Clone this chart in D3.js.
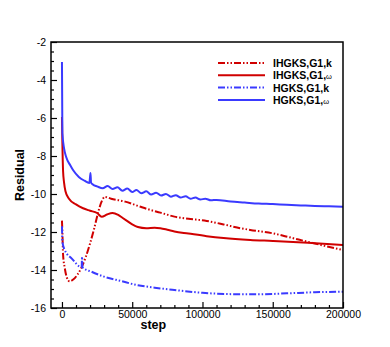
<!DOCTYPE html>
<html>
<head>
<meta charset="utf-8">
<script src="https://cdn.jsdelivr.net/npm/d3@7"></script>
<style>
  body { margin: 0; background: #fff; }
  svg { display: block; font-family: "Liberation Sans", Arial, sans-serif; }
</style>
</head>
<body>
<div id="chart"></div>
<script>
// [step, residual]
const ihgksK = [
  [0, -11.4], [300, -12.0], [800, -13.2], [2000, -13.9], [3500, -14.4],
  [5500, -14.6], [8000, -14.5], [11000, -14.25], [14000, -13.85], [17000, -13.3],
  [20000, -12.6], [23000, -11.8], [26000, -10.9], [28500, -10.35], [30500, -10.15],
  [35000, -10.25], [45000, -10.4], [55000, -10.65], [62000, -10.82], [70000, -10.98],
  [80000, -11.19], [90000, -11.3], [103000, -11.42], [115000, -11.6], [127000, -11.8],
  [134000, -11.89], [150000, -12.07], [162000, -12.28], [174000, -12.5], [187000, -12.73],
  [200000, -12.95]
];
const ihgksW = [
  [0, -5.95], [300, -7.3], [800, -8.8], [1500, -9.4], [2500, -9.85],
  [5000, -10.25], [10000, -10.55], [15000, -10.75], [20000, -10.88], [25000, -11.0],
  [28300, -11.2], [32000, -11.08], [36000, -11.0], [40000, -11.1], [43000, -11.25],
  [46000, -11.4], [50000, -11.6], [54000, -11.74], [60000, -11.8], [66000, -11.77],
  [70000, -11.8], [75000, -11.88], [80000, -11.97], [90000, -12.08], [103000, -12.22],
  [115000, -12.32], [134000, -12.42], [150000, -12.47], [175000, -12.56], [200000, -12.68]
];
const hgksK = [
  [0, -11.7], [200, -12.3], [500, -12.6], [2000, -12.95], [7000, -13.4],
  [14000, -13.85], [14300, -13.3], [14600, -13.86], [21000, -14.09], [30000, -14.35],
  [42000, -14.58], [54000, -14.8], [66000, -14.93], [80000, -15.05], [100000, -15.2],
  [120000, -15.27], [140000, -15.28], [160000, -15.23], [180000, -15.17], [200000, -15.14]
];
const hgksW = [
  [0, -3.05], [300, -6.8], [1500, -7.6], [3000, -8.05], [6000, -8.5],
  [8000, -8.75], [12000, -9.1], [16000, -9.3], [19500, -9.42], [20000, -9.1],
  [20300, -8.9], [20700, -9.4], [22000, -9.5], [25000, -9.6], [29000, -9.7],
  [32500, -9.58], [36000, -9.74], [39500, -9.64], [43000, -9.83], [46500, -9.71],
  [50000, -9.9], [53000, -9.79], [56500, -9.96], [60000, -9.86], [63500, -10.03],
  [67000, -9.93], [70500, -10.08], [74000, -10.0], [77500, -10.14], [81000, -10.06],
  [84500, -10.19], [88000, -10.12], [91500, -10.25], [95000, -10.19], [98500, -10.29],
  [102000, -10.25], [106000, -10.33], [110000, -10.31], [120000, -10.4], [130000, -10.45],
  [140000, -10.5], [150000, -10.53], [160000, -10.57], [170000, -10.6], [180000, -10.63],
  [190000, -10.65], [200000, -10.67]
];

const xTicks = [0, 50000, 100000, 150000, 200000];
const yTicks = [-16, -14, -12, -10, -8, -6, -4, -2];
const legendNames = ["IHGKS,G1,", "IHGKS,G1,", "HGKS,G1,", "HGKS,G1,"];
const legendSuffix = ["k", "\u03c9", "k", "\u03c9"];

const red = "#d00000",
  blue = "#3a3aff",
  dashDot = "7,2,1.5,2,1.5,2";

const margin = { top: 42, right: 47, bottom: 39, left: 51 },
  width = 390 - margin.left - margin.right,
  height = 347 - margin.top - margin.bottom;

const svg = d3
  .select("#chart")
  .append("svg")
  .attr("width", 390)
  .attr("height", 347)
  .append("g")
  .attr("transform", "translate(" + margin.left + "," + margin.top + ")");

const x = d3.scaleLinear().domain([-7800, 200000]).range([0, width]);
const y = d3.scaleLinear().domain([-16, -2]).range([height, 0]);

// ticks point inward, like the original
const xAxis = d3
  .axisBottom(x)
  .tickValues(xTicks)
  .tickSizeInner(-6)
  .tickSizeOuter(0)
  .tickPadding(3)
  .tickFormat(d => d);
const xMinor = d3
  .axisBottom(x)
  .tickValues(d3.range(10000, 200000, 10000).filter(d => d % 50000))
  .tickSizeInner(-3)
  .tickSizeOuter(0)
  .tickFormat("");
const yAxis = d3
  .axisLeft(y)
  .tickValues(yTicks)
  .tickSizeInner(-6)
  .tickSizeOuter(0)
  .tickPadding(5)
  .tickFormat(d => d);
const yMinor = d3
  .axisLeft(y)
  .tickValues(d3.range(-15.5, -2, 0.5).filter(d => d % 2))
  .tickSizeInner(-3)
  .tickSizeOuter(0)
  .tickFormat("");

svg.append("g").attr("transform", "translate(0," + height + ")").call(xAxis);
svg.append("g").attr("transform", "translate(0," + height + ")").call(xMinor);
svg.append("g").call(yAxis);
svg.append("g").call(yMinor);

svg.selectAll(".domain").remove();
svg.selectAll(".tick line").style("stroke", "#000").style("stroke-width", 1.2);
svg
  .selectAll(".tick text")
  .style("font-size", "10.5px")
  .style("fill", "#000")
  .style("font-family", "'Liberation Sans', Arial, sans-serif");

const line = d3
  .line()
  .curve(d3.curveMonotoneX)
  .x(d => x(d[0]))
  .y(d => y(d[1]));

const series = [
  { data: ihgksK, color: red, dash: dashDot },
  { data: ihgksW, color: red, dash: null },
  { data: hgksK, color: blue, dash: dashDot },
  { data: hgksW, color: blue, dash: null }
];

svg
  .append("clipPath")
  .attr("id", "clip")
  .append("rect")
  .attr("width", width)
  .attr("height", height);

series.forEach(s => {
  svg
    .append("path")
    .datum(s.data)
    .attr("clip-path", "url(#clip)")
    .attr("fill", "none")
    .attr("stroke", s.color)
    .attr("stroke-width", 2)
    .attr("stroke-linejoin", "round")
    .attr("stroke-dasharray", s.dash)
    .attr("d", line);
});

svg
  .append("rect")
  .attr("width", width)
  .attr("height", height)
  .attr("fill", "none")
  .attr("stroke", "#000")
  .attr("stroke-width", 1.5);

// legend
const legend = svg.append("g").attr("transform", "translate(167,21)");
series.forEach((s, i) => {
  const g = legend.append("g").attr("transform", "translate(0," + i * 12.3 + ")");
  g.append("line")
    .attr("x1", 0)
    .attr("x2", 47)
    .attr("stroke", s.color)
    .attr("stroke-width", 2)
    .attr("stroke-dasharray", s.dash);
  const t = g
    .append("text")
    .attr("x", 55)
    .attr("y", 4)
    .style("font-size", "10.5px")
    .style("font-weight", "bold")
    .text(legendNames[i]);
  if (legendSuffix[i] === "k") {
    t.append("tspan").text("k");
  } else {
    t.append("tspan")
      .style("font-size", "7.5px")
      .style("font-weight", "normal")
      .text(legendSuffix[i]);
  }
});

svg
  .append("text")
  .attr("x", x(65000))
  .attr("y", height + 21)
  .attr("text-anchor", "middle")
  .style("font-size", "12.5px")
  .style("font-weight", "bold")
  .text("step");

svg
  .append("text")
  .attr("transform", "translate(-27," + y(-9) + ") rotate(-90)")
  .attr("text-anchor", "middle")
  .style("font-size", "12.5px")
  .style("font-weight", "bold")
  .text("Residual");
</script>
</body>
</html>
